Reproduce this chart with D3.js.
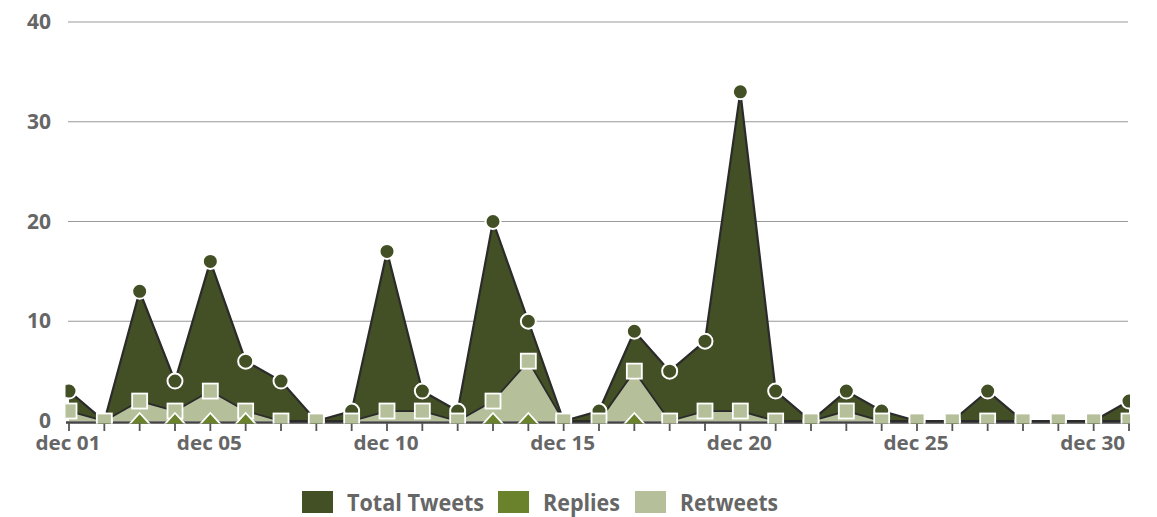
<!DOCTYPE html>
<html>
<head>
<meta charset="utf-8">
<script src="https://cdn.jsdelivr.net/npm/d3@7/dist/d3.min.js"></script>
<style>
  html, body { margin: 0; padding: 0; background: #fff; }
  svg { display: block; }
  text { font-family: "Open Sans", "Noto Sans", sans-serif; font-weight: 700; fill: #666; }
</style>
</head>
<body>
<svg id="chart" width="1157" height="517"></svg>
<script>
// ---- data ----
const days = d3.range(1, 32);
const totalTweets = [3, 0, 13, 4, 16, 6, 4, 0, 1, 17, 3, 1, 20, 10, 0, 1, 9, 5, 8, 33, 3, 0, 3, 1, 0, 0, 3, 0, 0, 0, 2];
const retweets    = [1, 0, 2, 1, 3, 1, 0, 0, 0, 1, 1, 0, 2, 6, 0, 0, 5, 0, 1, 1, 0, 0, 1, 0, 0, 0, 0, 0, 0, 0, 0];
const replies     = [null, null, 0, 0, 0, 0, null, null, null, null, null, null, 0, 0, null, null, 0, null, null, null, null, null, null, null, null, null, null, null, null, null, null];
const xTickLabels = [[1, "dec 01"], [5, "dec 05"], [10, "dec 10"], [15, "dec 15"], [20, "dec 20"], [25, "dec 25"], [30, "dec 30"]];
const yTicks = [0, 10, 20, 30, 40];
const seriesNames = ["Total Tweets", "Replies", "Retweets"];
const seriesColors = ["#434f24", "#6a822c", "#b5c09a"];

// ---- layout ----
const svg = d3.select("#chart");
const x = d3.scaleLinear().domain([1, 31]).range([69, 1129]);
const y = d3.scaleLinear().domain([0, 40]).range([421, 22]);

// gridlines
svg.append("g").selectAll("line").data(yTicks.filter(d => d > 0)).join("line")
  .attr("x1", 68).attr("x2", 1128)
  .attr("y1", d => y(d)).attr("y2", d => y(d))
  .attr("stroke", "#999").attr("stroke-width", 1.2);

// y labels
svg.append("g").selectAll("text").data(yTicks).join("text")
  .attr("x", 51).attr("y", d => y(d) + 7)
  .attr("text-anchor", "end").attr("font-size", 21)
  .text(d => d);

// x axis line (under the markers)
svg.append("line").attr("x1", 66).attr("x2", 1130).attr("y1", 422.5).attr("y2", 422.5)
  .attr("stroke", "#444").attr("stroke-width", 2.5);

// x ticks
svg.append("g").selectAll("line").data(days).join("line")
  .attr("x1", d => x(d)).attr("x2", d => x(d))
  .attr("y1", 423).attr("y2", 431)
  .attr("stroke", "#555").attr("stroke-width", 1.8);

// clip
svg.append("defs").append("clipPath").attr("id", "plotclip")
  .append("rect").attr("x", 65.5).attr("y", 0).attr("width", 1130 - 65.5).attr("height", 423.5);

const plot = svg.append("g").attr("clip-path", "url(#plotclip)");

const pts = arr => days.map((d, i) => ({ d, v: arr[i] }));
const area = d3.area().defined(p => p.v != null).x(p => x(p.d)).y0(y(0)).y1(p => y(p.v));
const line = d3.line().defined(p => p.v != null).x(p => x(p.d)).y(p => y(p.v));

// total tweets
plot.append("path").datum(pts(totalTweets)).attr("d", area).attr("fill", seriesColors[0]);
plot.append("path").datum(pts(totalTweets)).attr("d", line)
  .attr("fill", "none").attr("stroke", "#2b2b2b").attr("stroke-width", 2.2);

// retweets
plot.append("path").datum(pts(retweets)).attr("d", area).attr("fill", seriesColors[2]);
plot.append("path").datum(pts(retweets)).attr("d", line)
  .attr("fill", "none").attr("stroke", "#2b2b2b").attr("stroke-width", 1.8);

// markers: total
plot.append("g").selectAll("circle").data(pts(totalTweets)).join("circle")
  .attr("cx", p => x(p.d)).attr("cy", p => y(p.v)).attr("r", 7.5)
  .attr("fill", seriesColors[0]).attr("stroke", "#fff").attr("stroke-width", 2);

// markers: retweets
plot.append("g").selectAll("rect").data(pts(retweets)).join("rect")
  .attr("x", p => x(p.d) - 7.5).attr("y", p => y(p.v) - 7.5)
  .attr("width", 15).attr("height", 15)
  .attr("fill", seriesColors[2]).attr("stroke", "#fff").attr("stroke-width", 1.8);

// markers: replies
plot.append("g").selectAll("path").data(pts(replies).filter(p => p.v != null)).join("path")
  .attr("d", p => {
    const cx = x(p.d), cy = y(p.v);
    return `M${cx},${cy - 8}L${cx + 11},${cy + 4}L${cx - 11},${cy + 4}Z`;
  })
  .attr("fill", seriesColors[1]).attr("stroke", "#fff").attr("stroke-width", 1.8);

svg.append("g").selectAll("text").data(xTickLabels).join("text")
  .attr("x", d => x(d[0]) - 1).attr("y", 450)
  .attr("text-anchor", "middle").attr("font-size", 20)
  .attr("textLength", 65).attr("lengthAdjust", "spacingAndGlyphs")
  .text(d => d[1]);

// legend
const legendX = [302, 498, 635];
const legendW = [137, 77, 98];
const lg = svg.append("g").selectAll("g").data(seriesNames).join("g")
  .attr("transform", (d, i) => `translate(${legendX[i]},491)`);
lg.append("rect").attr("width", 31).attr("height", 22).attr("fill", (d, i) => seriesColors[i]);
lg.append("text").attr("x", 45).attr("y", 20)
  .attr("font-size", 24)
  .attr("textLength", (d, i) => legendW[i]).attr("lengthAdjust", "spacingAndGlyphs")
  .text(d => d);
</script>
</body>
</html>
